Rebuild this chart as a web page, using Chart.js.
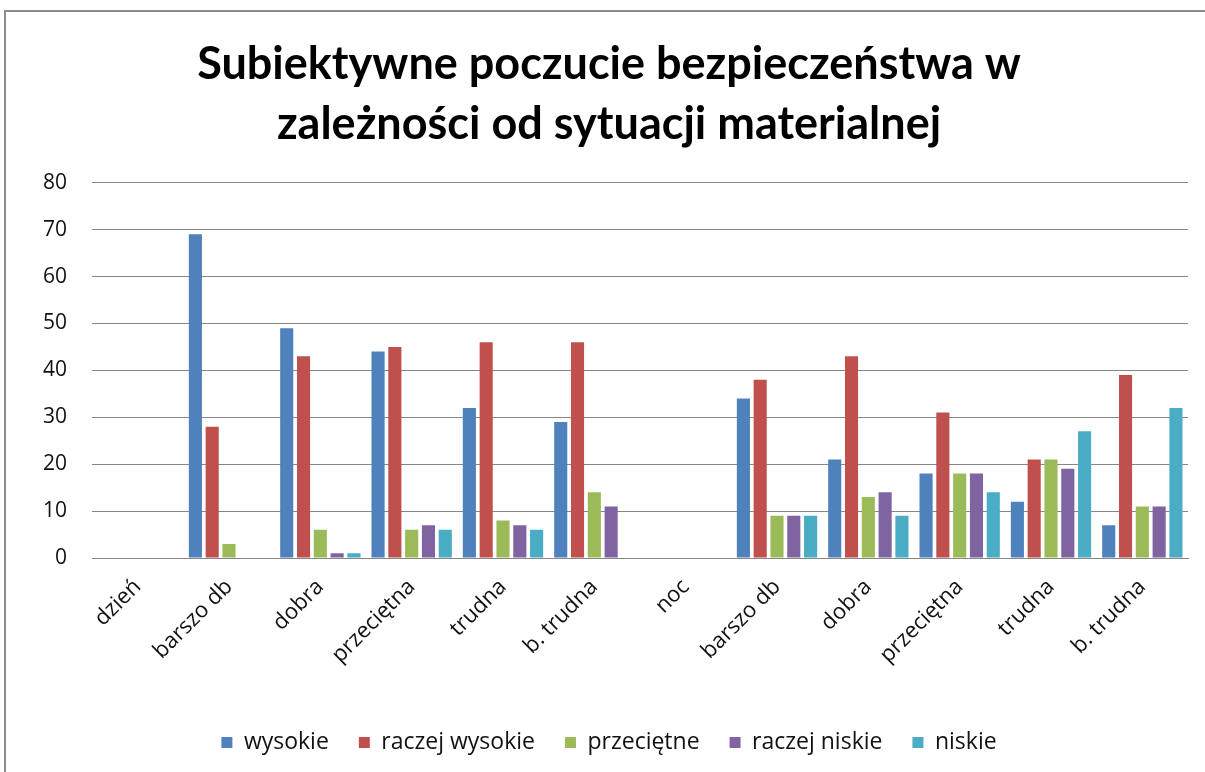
<!DOCTYPE html>
<html>
<head>
<meta charset="utf-8">
<script src="https://cdn.jsdelivr.net/npm/chart.js@4/dist/chart.umd.min.js"></script>
<style>
  html, body { margin: 0; padding: 0; background: #fff; }
  #frame {
    position: absolute; left: 4px; top: 10px; width: 1220px; height: 800px;
    border: 2px solid #8c8c8c; box-sizing: border-box;
  }
  #wrap { position: absolute; left: 0; top: 0; width: 1205px; height: 772px; }
</style>
</head>
<body>
<div id="frame"></div>
<div id="wrap"><canvas id="chart" width="1205" height="772"></canvas></div>
<script>
// kategorie: dzień / noc, potem sytuacja materialna
var categories = ['dzień', 'barszo db', 'dobra', 'przeciętna', 'trudna', 'b. trudna',
                  'noc', 'barszo db', 'dobra', 'przeciętna', 'trudna', 'b. trudna'];

var seriesNames = ['wysokie', 'raczej wysokie', 'przeciętne', 'raczej niskie', 'niskie'];

var wysokie        = [null, 69, 49, 44, 32, 29, null, 34, 21, 18, 12, 7];
var raczejWysokie  = [null, 28, 43, 45, 46, 46, null, 38, 43, 31, 21, 39];
var przecietne     = [null, 3, 6, 6, 8, 14, null, 9, 13, 18, 21, 11];
var raczejNiskie   = [null, null, 1, 7, 7, 11, null, 9, 14, 18, 19, 11];
var niskie         = [null, null, 1, 6, 6, null, null, 9, 9, 14, 27, 32];

var yTicks = [0, 10, 20, 30, 40, 50, 60, 70, 80];

var colors = ['#4f81bd', '#c0504d', '#9bbb59', '#8064a2', '#4bacc6'];
var values = [wysokie, raczejWysokie, przecietne, raczejNiskie, niskie];

var datasets = seriesNames.map(function (name, i) {
    return {
        label: name,
        data: values[i],
        backgroundColor: colors[i],
        borderWidth: 0,
        categoryPercentage: 0.92,
        barPercentage: 0.78
    };
});

var titleFont = 'Lato, "Liberation Sans", sans-serif';
var font = '"Open Sans", "Liberation Sans", sans-serif';

new Chart(document.getElementById('chart'), {
    type: 'bar',
    data: { labels: categories, datasets: datasets },
    options: {
        responsive: false,
        animation: false,
        layout: { padding: { top: 10, left: 30, right: 17, bottom: 8 } },
        plugins: {
            title: {
                display: true,
                text: ['Subiektywne poczucie bezpieczeństwa w', 'zależności od sytuacji materialnej'],
                color: '#000',
                font: { family: titleFont, size: 45, weight: 'bold', lineHeight: 1.33 },
                padding: { top: 25, bottom: 28 }
            },
            legend: {
                position: 'bottom',
                labels: {
                    color: '#111',
                    font: { family: font, size: 23 },
                    boxWidth: 11,
                    boxHeight: 11,
                    padding: 30
                }
            },
            tooltip: { enabled: false }
        },
        scales: {
            x: {
                grid: { display: false, drawTicks: false },
                border: { display: true, color: '#868686' },
                ticks: {
                    color: '#111',
                    font: { family: font, size: 22 },
                    maxRotation: 45,
                    minRotation: 45,
                    autoSkip: false,
                    padding: 16
                },
                afterFit: function (scale) { scale.height = 143; }
            },
            y: {
                min: 0,
                max: 80,
                afterBuildTicks: function (scale) {
                    scale.ticks = yTicks.map(function (v) { return { value: v }; });
                },
                grid: { color: '#868686', drawTicks: false },
                border: { display: false },
                ticks: {
                    color: '#111',
                    font: { family: font, size: 21 },
                    padding: 25
                },
                afterFit: function (scale) { scale.width = 62; }
            }
        }
    }
});
</script>
</body>
</html>
